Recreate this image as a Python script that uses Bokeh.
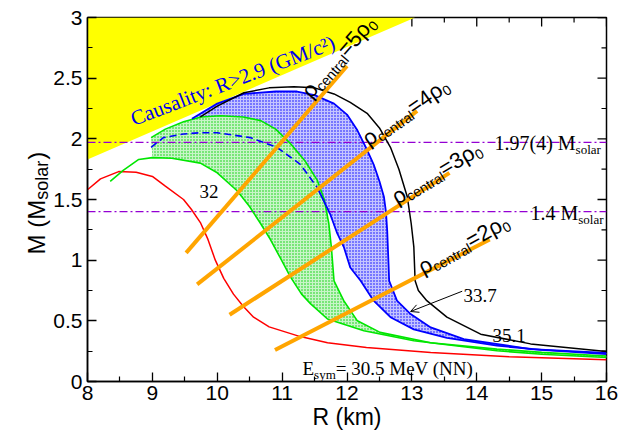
import numpy as np
from bokeh.plotting import figure
from bokeh.models import Range1d, FixedTicker, Label, Arrow, OpenHead
from bokeh.embed import file_html
from bokeh.resources import INLINE

# ---------------- data ----------------
x_ticks = [8, 9, 10, 11, 12, 13, 14, 15, 16]
x_tick_labels = ["8", "9", "10", "11", "12", "13", "14", "15", "16"]
y_ticks = [0, 0.5, 1.0, 1.5, 2.0, 2.5, 3.0]
y_tick_labels = ["0", "0.5", "1", "1.5", "2", "2.5", "3"]

causality_R = [8.0, 13.05]
causality_M = [1.83, 3.0]

red_R = [8.0, 8.2, 8.48, 8.75, 9.0, 9.2, 9.48, 9.6, 9.74, 9.85, 9.97, 10.1, 10.25, 10.4, 10.56, 10.8, 11.28, 11.7, 12.3, 13.29, 14.5, 16.0]
red_M = [1.58, 1.67, 1.73, 1.725, 1.69, 1.61, 1.50, 1.42, 1.31, 1.18, 1.0, 0.85, 0.72, 0.62, 0.53, 0.45, 0.37, 0.32, 0.28, 0.24, 0.205, 0.18]

green_in_R = [8.35, 8.55, 8.79, 9.0, 9.3, 9.74, 10.0, 10.31, 10.5, 10.67, 10.82, 10.97, 11.13, 11.3, 11.44, 11.7, 12.26, 13.03, 14.31, 15.0, 16.0]
green_in_M = [1.65, 1.74, 1.83, 1.845, 1.84, 1.80, 1.72, 1.57, 1.44, 1.30, 1.17, 1.02, 0.86, 0.72, 0.64, 0.515, 0.418, 0.336, 0.253, 0.225, 0.198]

green_out_R = [8.98, 9.2, 9.48, 9.75, 10.05, 10.4, 10.67, 10.9, 11.13, 11.35, 11.54, 11.65, 11.72, 11.76, 11.80, 11.95, 12.16, 12.51, 13.29, 14.31, 15.0, 16.0]
green_out_M = [2.01, 2.08, 2.14, 2.18, 2.19, 2.18, 2.15, 2.08, 1.96, 1.82, 1.66, 1.50, 1.30, 1.10, 0.83, 0.666, 0.50, 0.405, 0.32, 0.267, 0.24, 0.21]

blue_dash_R = [8.98, 9.17, 9.48, 9.74, 10.0, 10.51, 10.92, 11.28, 11.54]
blue_dash_M = [1.93, 2.01, 2.04, 2.05, 2.05, 2.01, 1.93, 1.79, 1.60]

blue_in_R = [11.54, 11.64, 11.74, 11.85, 11.95, 12.05, 12.21, 12.41, 12.67, 13.03, 13.54, 14.31, 15.0, 16.0]
blue_in_M = [1.60, 1.49, 1.38, 1.22, 1.11, 0.94, 0.83, 0.666, 0.53, 0.43, 0.36, 0.295, 0.26, 0.225]

blue_out_R = [9.61, 10.0, 10.41, 10.9, 11.23, 11.5, 11.8, 12.0, 12.16, 12.3, 12.41, 12.5, 12.57, 12.6, 12.62, 12.64, 12.65, 12.77, 12.98, 13.29, 13.8, 14.83, 16.0]
blue_out_M = [2.165, 2.29, 2.37, 2.39, 2.39, 2.36, 2.29, 2.20, 2.07, 1.92, 1.79, 1.65, 1.52, 1.40, 1.24, 0.97, 0.83, 0.666, 0.556, 0.446, 0.35, 0.267, 0.235]

black_R = [9.74, 10.0, 10.41, 10.8, 11.18, 11.5, 11.8, 12.05, 12.31, 12.5, 12.67, 12.8, 12.93, 12.99, 13.03, 13.05, 13.1, 13.23, 13.54, 14.06, 14.83, 16.0]
black_M = [2.18, 2.27, 2.38, 2.42, 2.43, 2.42, 2.37, 2.30, 2.21, 2.09, 1.93, 1.75, 1.52, 1.30, 1.11, 0.83, 0.75, 0.666, 0.53, 0.39, 0.31, 0.248]

rho_names = ["5", "4", "3", "2"]
rho_R0 = [9.52, 9.69, 10.19, 10.89]
rho_M0 = [1.06, 0.80, 0.55, 0.26]
rho_R1 = [12.0, 13.08, 13.58, 14.2]
rho_M1 = [2.60, 2.23, 1.72, 1.17]

obs_masses = [1.97, 1.4]

# ---------------- figure ----------------
FL, FT, FW, FH = 87, 17, 519, 364
XMIN, XMAX, YMIN, YMAX = 8.0, 16.0, 0.0, 3.0
p = figure(frame_width=FW, frame_height=FH, min_border_left=FL, min_border_right=16,
           min_border_top=FT, min_border_bottom=57,
           x_range=Range1d(XMIN, XMAX), y_range=Range1d(YMIN, YMAX),
           output_backend="svg", toolbar_location=None,
           background_fill_color="white", border_fill_color="white")
p.grid.visible = False
p.outline_line_color = "black"
p.outline_line_width = 1.5

PX0 = FL
PY1 = FT + FH
SX = FW / (XMAX - XMIN)
SY = FH / (YMAX - YMIN)
def to_data(px, py):
    return XMIN + (px - PX0) / SX, YMIN + (PY1 - py) / SY

x_minor = [t + 0.5 for t in x_ticks[:-1]]
y_minor = [t + 0.25 for t in y_ticks[:-1]]

for ax, ticks, minor, labels in ((p.xaxis[0], x_ticks, x_minor, x_tick_labels),
                                 (p.yaxis[0], y_ticks, y_minor, y_tick_labels)):
    ax.ticker = FixedTicker(ticks=ticks, minor_ticks=minor)
    ax.major_label_overrides = dict(zip(ticks, labels))
    ax.axis_line_color = "black"
    ax.axis_line_width = 1.5
    ax.major_tick_in = 9
    ax.major_tick_out = 0
    ax.minor_tick_in = 5
    ax.minor_tick_out = 0
    ax.major_tick_line_width = 1.3
    ax.minor_tick_line_width = 1.2
    ax.major_label_text_font = "Liberation Sans"
    ax.major_label_text_font_size = "21px"
    ax.major_label_text_color = "black"
    ax.axis_label_text_font = "Liberation Sans"
    ax.axis_label_text_font_style = "normal"
    ax.axis_label_text_color = "black"
p.xaxis.major_label_standoff = 4
p.yaxis.major_label_standoff = 5
p.xaxis.axis_label = "R (km)"
p.xaxis.axis_label_text_font_size = "23px"
p.xaxis.axis_label_standoff = 1

# mirrored ticks on top and right edges
p.segment(x_ticks, YMAX, x_ticks, YMAX - 9 / SY, line_color="black", line_width=1.3)
p.segment(x_minor, YMAX, x_minor, YMAX - 5 / SY, line_color="black", line_width=1.2)
p.segment(XMAX, y_ticks, XMAX - 9 / SX, y_ticks, line_color="black", line_width=1.3)
p.segment(XMAX, y_minor, XMAX - 5 / SX, y_minor, line_color="black", line_width=1.2)

# causality region
p.patch([causality_R[0], causality_R[0], causality_R[1]], [causality_M[0], YMAX, causality_M[1]],
        fill_color="#ffff00", line_color=None)

# blue band fill
bx = blue_out_R + blue_in_R[::-1] + blue_dash_R[::-1]
by = blue_out_M + blue_in_M[::-1] + blue_dash_M[::-1]
p.patch(bx, by, fill_color="#c4c4ff", line_color=None,
        hatch_pattern="dot", hatch_color="#0000ff", hatch_scale=3, hatch_weight=1.5)
# green band fill
gx = green_out_R + green_in_R[::-1][:-3]
gy = green_out_M + green_in_M[::-1][:-3]
p.patch(gx, gy, fill_color="#c8f5c8", line_color=None,
        hatch_pattern="dot", hatch_color="#00d000", hatch_scale=3, hatch_weight=1.5)

# observed masses
for m in obs_masses:
    p.line([XMIN, XMAX], [m, m], line_color="#9400d3", line_width=1.2, line_dash="8 3 2 3")

# curves
p.line(red_R, red_M, line_color="#ff0000", line_width=1.5)
p.line(green_in_R, green_in_M, line_color="#00e600", line_width=1.6)
p.line(green_out_R, green_out_M, line_color="#00e600", line_width=1.6)
p.line(blue_dash_R, blue_dash_M, line_color="#0000ff", line_width=1.6, line_dash="7 4")
p.line(blue_in_R, blue_in_M, line_color="#0000ff", line_width=1.8)
p.line(blue_out_R, blue_out_M, line_color="#0000ff", line_width=1.8)
p.line(black_R, black_M, line_color="black", line_width=1.5)

# central density lines
p.segment(rho_R0, rho_M0, rho_R1, rho_M1, line_color="#ffa500", line_width=4)

# arrow for 33.7
p.add_layout(Arrow(end=OpenHead(size=8, line_width=1, line_color="black"),
                   x_start=13.776, y_start=0.744, x_end=12.98, y_end=0.577,
                   line_color="black", line_width=1))

# ---------------- texts ----------------
SANS = "Liberation Sans"
SERIF = "Liberation Serif"
W_SANS = {"ρ": .578, "c": .5, "e": .556, "n": .556, "t": .278, "r": .333, "a": .556, "l": .222,
          "=": .584, "s": .5, "o": .556, "M": .833, " ": .278, "(": .333, ")": .333, "\u00a0": .278}
W_SERIF = {"E": .611, "s": .389, "y": .5, "m": .778, "=": .564, " ": .25, ".": .25, "M": .889,
           "e": .444, "V": .722, "(": .333, ")": .333, "N": .722, "o": .5, "l": .278, "a": .444, "r": .333}

def width(txt, size, font):
    tab = W_SANS if font == SANS else W_SERIF
    return sum(tab.get(c, 0.5 if font == SERIF else 0.556) for c in txt) * size

def place(pieces, px, py, ang_deg, font, color="black", where="center"):
    th = np.radians(ang_deg)
    ux, uy = np.cos(th), -np.sin(th)
    vx, vy = np.sin(th), np.cos(th)
    adv = 0.0
    for txt, size, sub in pieces:
        sx = px + adv * ux + sub * vx
        sy = py + adv * uy + sub * vy
        R, M = to_data(sx, sy)
        lab = Label(x=R, y=M, text=txt, angle=th, text_font=font,
                    text_font_size=f"{size}px", text_color=color,
                    text_baseline="alphabetic", text_align="left")
        p.add_layout(lab, where)
        adv += width(txt, size, font)

# density labels
rho_pos = [(305, 94, 49), (364, 140, 35), (393, 198, 31), (419, 268, 29)]
for name, (px, py, ang) in zip(rho_names, rho_pos):
    place([("ρ", 22, 0), ("central", 14, 6), ("=" + name + "ρ", 22, 0), ("0", 14, 6)], px, py, ang, SANS)

# causality
place([("Causality: R>2.9 (GM/c²)", 21, 0)], 131, 119, 21, SERIF, color="#0000ee")

# curve labels
place([("32", 19, 0)], 199, 191, 0, SERIF)
place([("33.7", 19, 0)], 463, 295, 0, SERIF)
place([("35.1", 19, 0)], 492, 335, 0, SERIF)
place([("E", 19, 0), ("sym", 13, 6), (" = 30.5 MeV (NN)", 19, 0)], 302, 368, 0, SERIF)
place([("1.97(4) M", 20, 0), ("solar", 13, 7)], 494, 142, 0, SERIF)
place([("1.4 M", 20, 0), ("solar", 13, 7)], 530, 212, 0, SERIF)

# y title, in the left panel so the frame does not clip it
NB = "\u00a0"
place([("M (M" + NB * 6 + ")", 24, 0)], 36, 254, 90, SANS, where="left")
place([("solar", 18, 0)], 41, 254 - width("M (M", 24, SANS), 90, SANS, where="left")

open("out.html", "w").write(file_html(p, INLINE))
